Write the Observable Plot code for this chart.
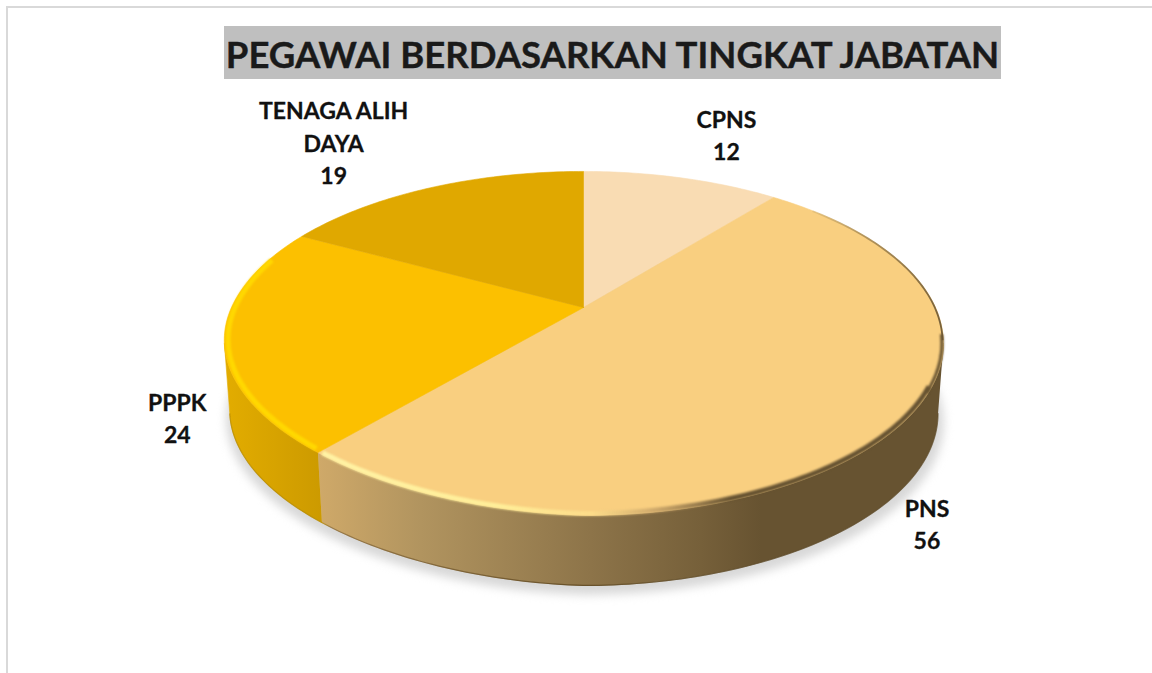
<!DOCTYPE html>
<html>
<head>
<meta charset="utf-8">
<script src="https://cdn.jsdelivr.net/npm/d3@7"></script>
<script src="https://cdn.jsdelivr.net/npm/@observablehq/plot@0.6"></script>
<style>
  html, body { margin: 0; padding: 0; background: #fff; width: 1152px; height: 673px; overflow: hidden; }
  #frame { position: absolute; left: 6px; top: 6px; width: 1200px; height: 720px; border: 2px solid #d9d9d9; box-sizing: border-box; }
  #title { position: absolute; left: 224px; top: 26px; width: 777px; height: 53px; margin: 0; background: #bfbfbf; color: #1a1a1a;
           font: 700 36.5px/56px Lato, "Open Sans", sans-serif; text-align: center; white-space: nowrap; overflow: hidden; -webkit-text-stroke: 0.4px #1a1a1a; }
  #chart { position: absolute; left: 0; top: 0; }
  #chart svg { background: transparent; }
</style>
</head>
<body>
<div id="frame"></div>
<div id="chart"></div>
<h1 id="title">PEGAWAI BERDASARKAN TINGKAT JABATAN</h1>
<script>
const categories = ["CPNS", "PNS", "PPPK", "TENAGA ALIH\nDAYA"];
const values = [12, 56, 24, 19];
const colors = ["#f9dcb3", "#f9cf80", "#fcc000", "#e0a800"];
// label placement relative to the rim point at each slice's middle angle
const labelDx = [45, 31, -47, -97];
const labelDy = [-44.5, 93.5, 78, -46.5];

// Perspective view of a round pie (the apex is not the ellipse's centre)
const cx = 583, cy = 307, B = 352, A = 164.5, k = 0.209, depth = 70, shrink = 0.985;
const rad = d => d * Math.PI / 180;
function rimTop(deg, inset = 1) {
  const t = rad(deg), s = Math.sin(t), c = Math.cos(t);
  // the reference's bevel pulls the lower-left rim slightly inward
  const r = inset * (1 - 0.053 * Math.max(0, -s) * (c < 0 ? c * c : 0));
  const w = 1 + k * r * c;
  return {x: cx + B * r * s / w, y: cy - A * r * c / w};
}
function rimBottom(deg) {
  const p = rimTop(deg);
  return {x: cx + (p.x - cx) * shrink, y: p.y + depth};
}
function arc(a0, a1, f = rimTop) {
  const n = Math.max(2, Math.ceil(Math.abs(a1 - a0)));
  return d3.range(n + 1).map(i => f(a0 + (a1 - a0) * i / n));
}

const total = d3.sum(values);
let acc = 0;
const slices = values.map((v, i) => {
  const a0 = acc; acc += v / total * 360;
  return {i, a0, a1: acc, mid: (a0 + acc) / 2};
});
const rightEdge = Math.acos(-k) * 180 / Math.PI;  // silhouette angles
const leftEdge = 360 - rightEdge;

const poly = (points, fill, extra = {}) =>
  Plot.line(points, {x: "x", y: "y", fill, stroke: fill, strokeWidth: 0.6, curve: "linear", ...extra});
const rim = (a0, a1, inset, stroke, strokeWidth, blur, extra = {}) =>
  Plot.line(arc(a0, a1, d => rimTop(d, inset)), {x: "x", y: "y", stroke, strokeWidth, strokeLinecap: "butt", imageFilter: `blur(${blur}px)`, ...extra});

function gradient(defs, id, stops) {
  const g = defs.append("linearGradient").attr("id", id).attr("gradientUnits", "userSpaceOnUse")
    .attr("x1", 223).attr("x2", 943).attr("y1", 0).attr("y2", 0);
  stops.forEach(([x, c, o = 1]) => g.append("stop").attr("offset", (x - 223) / 720).attr("stop-color", c).attr("stop-opacity", o));
}

const defsMark = () => {
  const defs = d3.create("svg:defs");
  gradient(defs, "sidePNS", [[318, "#cfa969"], [420, "#b1945f"], [590, "#8d7449"], [700, "#76603a"], [760, "#675331"], [943, "#675331"]]);
  gradient(defs, "sidePPPK", [[226, "#e2ac00"], [322, "#cc9a00"]]);
  gradient(defs, "rimPNS", [[318, "#fff4a6", 0.95], [500, "#fff09a", 0.95], [590, "#ffe38e", 0.7], [650, "#c9a468", 0.8], [730, "#675331", 1], [943, "#675331", 1]]);
  gradient(defs, "rimUpper", [[790, "#a08a58", 0], [860, "#8a7040", 0.6], [943, "#675331", 0.9]]);
  gradient(defs, "bottomEdge", [[226, "#b58900", 0.7], [322, "#b58900", 0.7], [330, "#8a6c3c", 0.8], [580, "#614a22", 0.9], [760, "#5b4928", 0.5], [943, "#5b4928", 0.3]]);
  return defs.node();
};

const pns = slices[1], pppk = slices[2];
const plot = Plot.plot({
  width: 1152, height: 673, margin: 0,
  x: {domain: [0, 1152], range: [0, 1152], axis: null},
  y: {domain: [0, 673], range: [0, 673], axis: null},
  marks: [
    defsMark,
    // soft shadow
    poly(arc(0, 360, rimBottom).map(p => ({x: p.x + 1 + (p.x - cx) * 0.012, y: p.y + 9})), "#d8d8d8", {imageFilter: "blur(5px)"}),
    // sides
    poly([...arc(rightEdge, pns.a1), ...arc(pns.a1, rightEdge, rimBottom)], "url(#sidePNS)"),
    poly([...arc(pppk.a0, leftEdge), ...arc(leftEdge, pppk.a0, rimBottom)], "url(#sidePPPK)"),
    Plot.line(arc(rightEdge, leftEdge, rimBottom), {x: "x", y: "y", stroke: "url(#bottomEdge)", strokeWidth: 1.2, strokeLinecap: "butt", imageFilter: "blur(0.5px)"}),
    // top face
    ...slices.map(s => poly([{x: cx, y: cy}, ...arc(s.a0, s.a1), {x: cx, y: cy}], colors[s.i])),
    // bevel
    rim(pppk.a0 + 1, 288, 0.99, "#ffd800", 5, 1.2),
    rim(rightEdge + 14, pns.a1 - 0.5, 0.993, "url(#rimPNS)", 5, 1.2),
    rim(rightEdge - 3, rightEdge + 16, 0.996, "#675331", 3.2, 1),
    rim(48, rightEdge - 1, 0.998, "url(#rimUpper)", 1.8, 0.7),
    // labels
    Plot.text(slices, {
      x: s => rimTop(s.mid).x + labelDx[s.i],
      y: s => rimTop(s.mid).y + labelDy[s.i],
      text: s => categories[s.i] + "\n" + values[s.i],
      fontFamily: "Lato, 'Open Sans', sans-serif", fontWeight: 700, fontSize: 23, lineHeight: 1.41,
      fill: "#111", stroke: "#111", strokeWidth: 0.3, textAnchor: "middle", lineAnchor: "middle"
    })
  ]
});
document.getElementById("chart").append(plot);
</script>
</body>
</html>
